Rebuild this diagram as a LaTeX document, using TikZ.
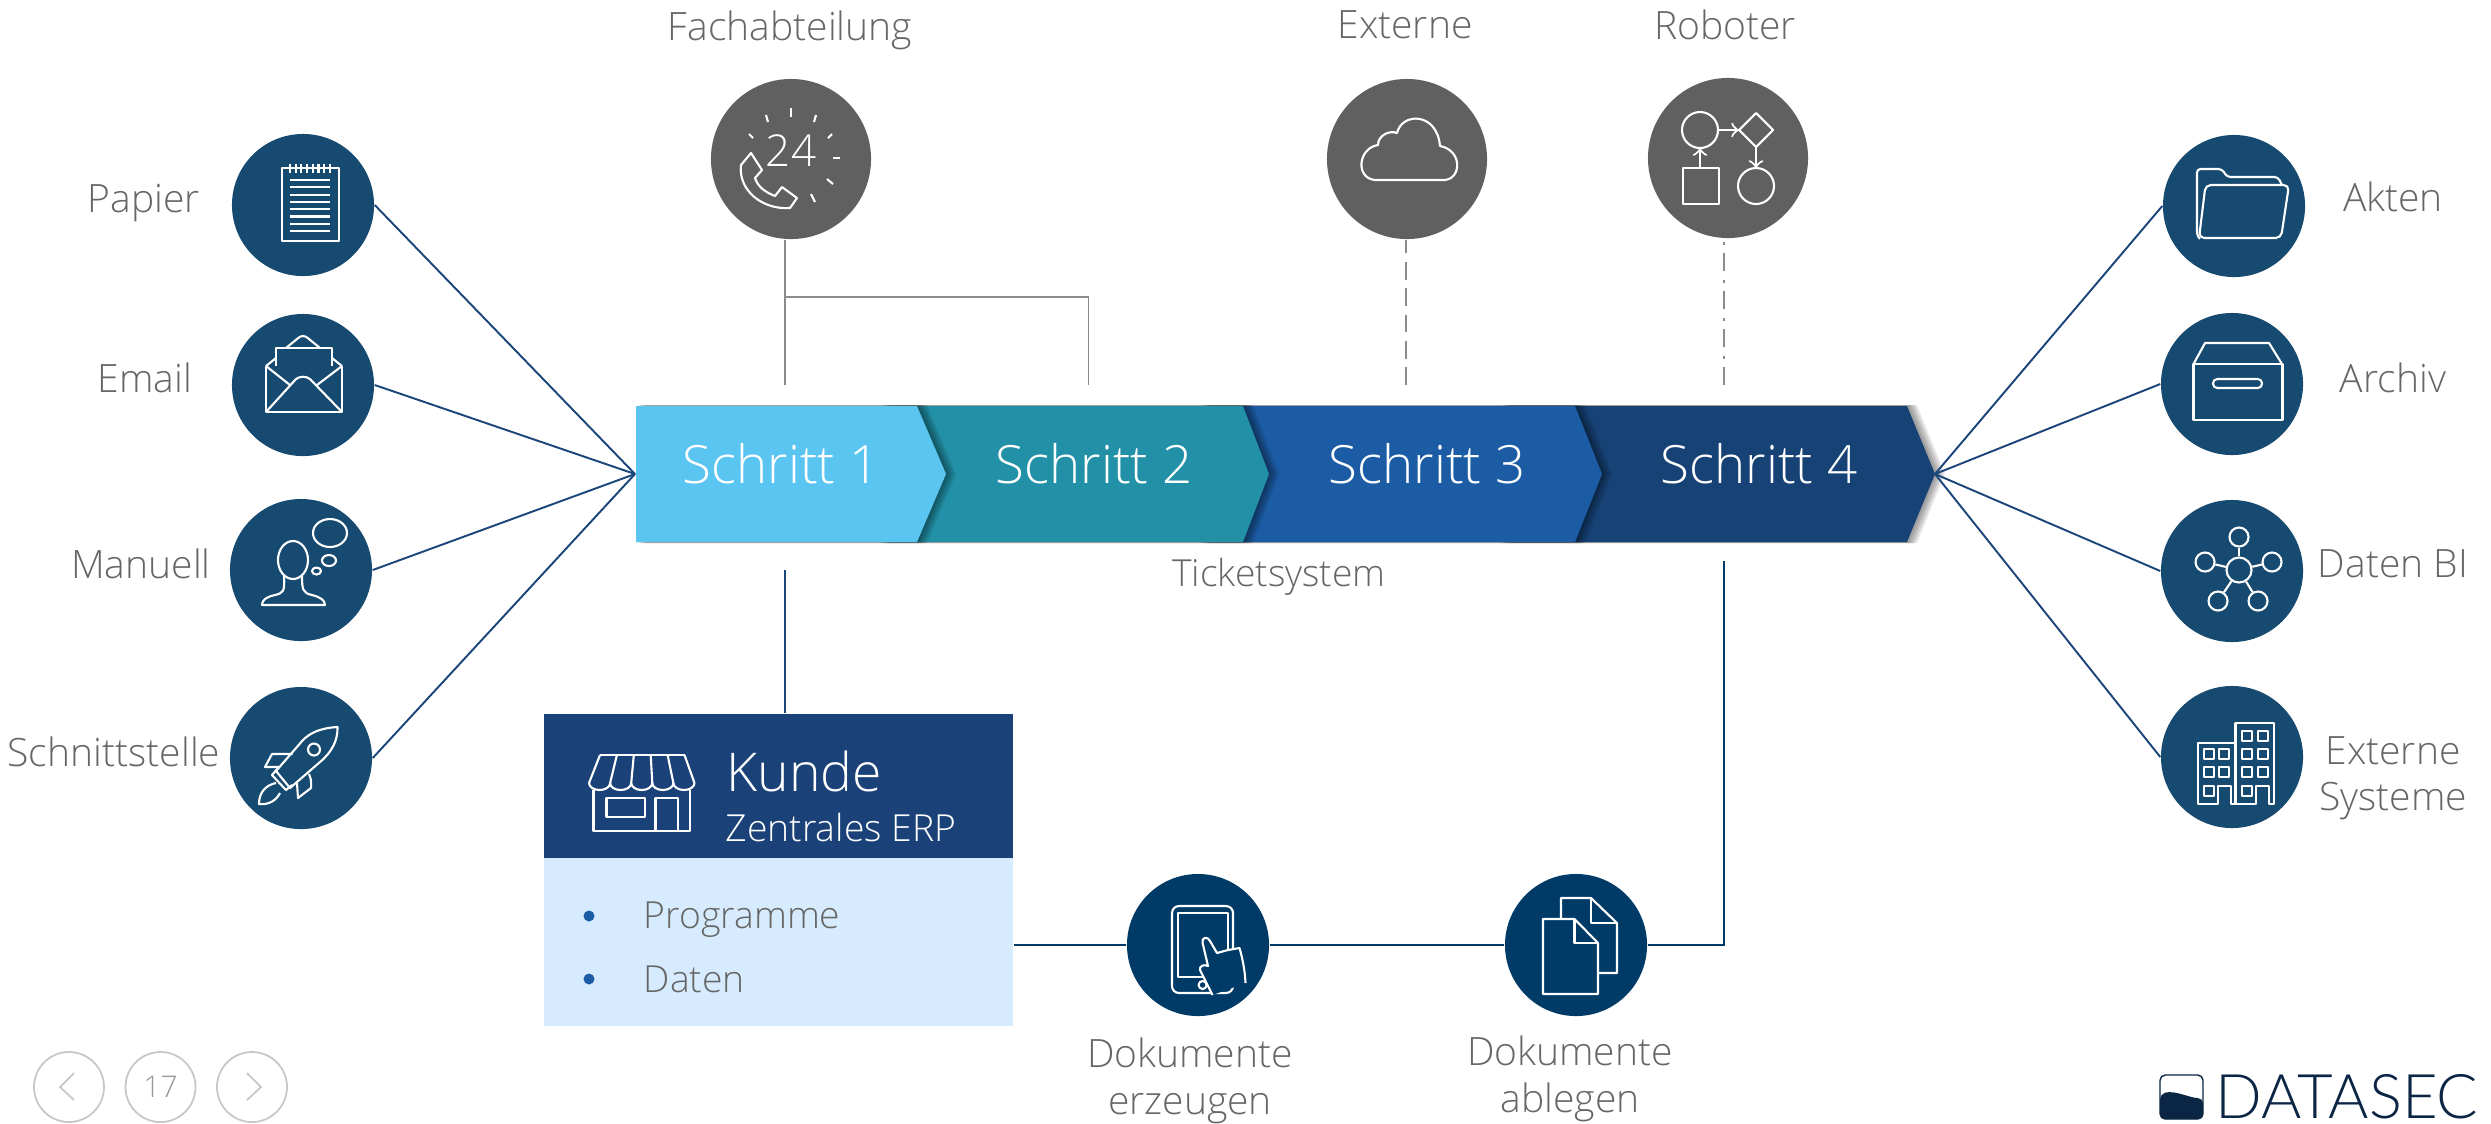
\documentclass[tikz,border=0pt]{standalone}
\usepackage{fontspec}
\setmainfont{Open Sans Light}
\newfontfamily\logofont{Lato Light}
\definecolor{kreisblau}{HTML}{174A70}
\definecolor{dokblau}{HTML}{003A66}
\definecolor{kreisgrau}{HTML}{606060}
\definecolor{liniegrau}{HTML}{8C8C8C}
\definecolor{linieblau}{HTML}{1C4679}
\definecolor{textgrau}{HTML}{666666}
\definecolor{kopfblau}{HTML}{1A4278}
\definecolor{boxblau}{HTML}{D6ECFE}
\definecolor{logoblau}{HTML}{0B2545}
\definecolor{schrittA}{HTML}{5BC5F2}
\definecolor{schrittB}{HTML}{2291A8}
\definecolor{schrittC}{HTML}{1C5CA5}
\definecolor{schrittD}{HTML}{174276}
\tikzset{
    kreis/.style={circle,inner sep=0,minimum size=1.42cm},
    kreisb/.style={kreis,fill=kreisblau},
    kreisd/.style={kreis,fill=dokblau},
    kreisg/.style={circle,inner sep=0,minimum size=1.6cm,fill=kreisgrau},
    rund/.style={circle,inner sep=0,minimum size=0.7cm,draw=black!22,line width=0.5pt,text=black!40,font=\fontsize{8.5}{10}\selectfont},
    beschriftung/.style={inner sep=0,text=textgrau,align=center,font=\fontsize{11.1}{13.2}\selectfont},
    klein/.style={beschriftung,font=\fontsize{10.6}{13}\selectfont},
    schritt/.style={inner sep=0,text=white,font=\fontsize{15}{18}\selectfont},
    blaulinie/.style={draw=linieblau,line width=0.55pt},
    graulinie/.style={draw=liniegrau,line width=0.55pt},
    icon/.style={draw=white,line width=0.6pt,line join=round},
    netz/.style={circle,inner sep=0,draw=white,line width=0.6pt}
}
\begin{document}
\begin{tikzpicture}[x=0.01cm,y=-0.01cm]
    \useasboundingbox (0,0) rectangle (2491,1123);

    % Draw the four steps, last one first
    \foreach \l/\s/\t/\c in {1500/1907/1935/schrittD,1200/1575/1602/schrittC,880/1243/1269/schrittB,636/917/946/schrittA} {
        \foreach \d in {2,4,...,10} {
            \fill[black,opacity=.09,shift={(\d,0)}] (\l,405) -- (\s,405) -- (\t,474) -- (\s,543) -- (\l,543) -- cycle;
        }
        \fill[\c] (\l,406) -- (\s,406) -- (\t,474) -- (\s,542) -- (\l,542) -- cycle;
    }
    \node[schritt] (schritt1) at (781,464) {Schritt 1};
    \node[schritt] (schritt2) at (1094,464) {Schritt 2};
    \node[schritt] (schritt3) at (1427,464) {Schritt 3};
    \node[schritt] (schritt4) at (1759,464) {Schritt 4};
    \node[klein] (ticket) at (1279,577) {Ticketsystem};

    % Circles
    \foreach \name/\x/\y in {papier/303/205,email/303/385,manuell/301/570,schnittstelle/301/758,akten/2234/206,archiv/2232/384,datenbi/2232/571,systeme/2232/757} {
        \node[kreisb] (\name) at (\x,\y) {};
    }
    \node[kreisg] (fach) at (791,159) {};
    \node[kreisg] (extern) at (1407,159) {};
    \node[kreisg] (roboter) at (1728,158) {};
    \node[kreisd] (erzeugen) at (1198,945) {};
    \node[kreisd] (ablegen) at (1576,945) {};

    % Customer box
    \node[fill=kopfblau,inner sep=0,minimum width=4.69cm,minimum height=1.44cm] (kundekopf) at (778.5,786) {};
    \node[fill=boxblau,inner sep=0,minimum width=4.69cm,minimum height=1.68cm] (kundebox) at (778.5,942) {};
    \node[inner sep=0,anchor=west,text=white,font=\fontsize{15.2}{18}\selectfont] (kunde) at (726,771) {Kunde};
    \node[inner sep=0,anchor=west,text=white,font=\fontsize{10.6}{13}\selectfont] (erp) at (725,827) {Zentrales ERP};
    \node[klein,anchor=west] (programme) at (643,920) {Programme};
    \node[klein,anchor=west] (daten) at (643,979) {Daten};
    \node[circle,inner sep=0,minimum size=0.11cm,fill=schrittC] (punkta) at (589,916) {};
    \node[circle,inner sep=0,minimum size=0.11cm,fill=schrittC] (punktb) at (589,979) {};

    % Labels
    \foreach \name/\x/\y/\t in {lpapier/144/203/Papier,lemail/145/378/Email,lmanuell/141/564/Manuell,lschnitt/114/752/Schnittstelle,lakten/2393/197/Akten,larchiv/2393/378/Archiv,ldaten/2393/564/Daten BI,lsysteme/2393/778/{Externe\\Systeme},lfach/790/30/Fachabteilung,lextern/1405/25/Externe,lroboter/1725/25/Roboter,lerzeugen/1190/1081/{Dokumente\\erzeugen},lablegen/1570/1079/{Dokumente\\ablegen}} {
        \node[beschriftung] (\name) at (\x,\y) {\t};
    }

    % Connectors
    \coordinate (eingang) at (635,474);
    \coordinate (ausgang) at (1935,474);
    \foreach \name in {papier,email,manuell,schnittstelle} {
        \draw[blaulinie] (\name.east) -- (eingang);
    }
    \foreach \name in {akten,archiv,datenbi,systeme} {
        \draw[blaulinie] (\name.west) -- (ausgang);
    }
    \coordinate (s1oben) at (785,385);
    \coordinate (s2oben) at (1088.5,385);
    \coordinate (s3oben) at (1406,385);
    \coordinate (s4oben) at (1724,385);
    \coordinate (s1unten) at (785,570);
    \coordinate (s4unten) at (1724,561);
    \coordinate (abzweig) at (785,297);
    \draw[graulinie] (s1oben) -- (s1oben |- fach.south);
    \draw[graulinie] (abzweig) -| (s2oben);
    \draw[graulinie,line width=0.45pt,dash pattern=on 5pt off 2.5pt] (s3oben) -- (s3oben |- extern.south);
    \draw[graulinie,line width=0.45pt,dash pattern=on 5pt off 2.5pt on 0.8pt off 2.5pt] (s4oben) -- (s4oben |- roboter.south);
    \draw[blaulinie] (s1unten) -- (s1unten |- kundekopf.north);
    \draw[draw=dokblau,line width=0.7pt] (kundebox.east |- erzeugen.west) -- (erzeugen.west);
    \draw[draw=dokblau,line width=0.7pt] (erzeugen.east) -- (ablegen.west);
    \draw[draw=dokblau,line width=0.7pt] (ablegen.east) -| (s4unten);

    % Paper
    \draw[icon] (282,168) rectangle (339,241);
    \foreach \y in {180,187.3,...,232} {
        \draw[icon] (290,\y) -- (330,\y);
    }
    \foreach \x in {290,295.7,...,331} {
        \draw[icon] (\x,164) -- (\x,173);
    }

    % Email
    \draw[icon] (276,366) -- (276,348) -- (332,348) -- (332,366);
    \draw[icon] (286,348) -- (297,339) .. controls (301,335) and (305,335) .. (309,339) -- (320,348);
    \draw[icon] (266,366) -- (276,358) (342,366) -- (332,358);
    \draw[icon] (266,366) -- (266,412) -- (342,412) -- (342,366);
    \draw[icon] (266,366) -- (290,385) (342,366) -- (317,385);
    \draw[icon] (266,412) -- (296,379) .. controls (300,376) and (306,376) .. (310,379) -- (342,412);

    % Thinking head
    \draw[icon] (293,560) ellipse [x radius=15,y radius=19];
    \draw[icon] (284,576) .. controls (285,592) and (283,593) .. (275,595) .. controls (266,597) and (262,600) .. (262,605) -- (325,605) .. controls (325,600) and (320,597) .. (312,595) .. controls (303,593) and (302,590) .. (302,576);
    \draw[icon] (330,533) ellipse [x radius=17,y radius=14];
    \draw[icon] (329,560.5) ellipse [x radius=7,y radius=5.5];
    \draw[icon] (316.5,571) ellipse [x radius=4.5,y radius=3.5];

    % Rocket
    \draw[icon] (337.5,727) .. controls (320,728) and (310,733) .. (303,740) -- (276,771) -- (290,788) -- (320,762) .. controls (332,752) and (338,740) .. (337.5,727) -- cycle;
    \draw[icon] (314,749.5) circle (6);
    \draw[icon] (278,768) -- (272,775) -- (286,790) -- (292,785);
    \draw[icon] (292.5,754) -- (272,754) -- (265,767) -- (279,767);
    \draw[icon] (309,774) .. controls (312,780) and (311,785) .. (311,788) -- (298,798) -- (297,783);
    \draw[icon] (276,783) .. controls (266,785) and (259,792) .. (259,804) .. controls (268,805) and (276,801) .. (280,793);

    % Phone with ticks
    \node[inner sep=0,text=white,font=\fontsize{12.5}{14}\selectfont] (vierundzwanzig) at (791,151) {24};
    \foreach \a/\b/\c/\d in {791/108/791/117,766/115/768/122,816/115/814/122,749/134/753/138,832/134/828/138,833/158/840/158,827/179/833/184,811/194/815/202} {
        \draw[icon] (\a,\b) -- (\c,\d);
    }
    \draw[icon] (741,165) -- (751,153) -- (762,170) -- (755,178) .. controls (758,187) and (765,192) .. (775,196) -- (782,187) -- (797,198) -- (790,208) .. controls (762,210) and (738,190) .. (741,165) -- cycle;

    % Cloud
    \draw[icon] (1375,180) .. controls (1355,178) and (1358,148) .. (1378,145) .. controls (1378,135) and (1390,130) .. (1397,133) .. controls (1402,112) and (1437,112) .. (1440,146) .. controls (1462,150) and (1462,178) .. (1445,180) -- cycle;

    % Process chart
    \draw[icon] (1700,130) circle (18);
    \draw[icon] (1756,113) -- (1773,130) -- (1756,147) -- (1739,130) -- cycle;
    \draw[icon] (1683,168) rectangle (1719,204);
    \draw[icon] (1756,186) circle (18);
    \draw[icon,->] (1718,130) -- (1739,130);
    \draw[icon,->] (1700,168) -- (1700,148);
    \draw[icon,->] (1756,147) -- (1756,168);

    % Folder
    \draw[icon,rounded corners=1pt] (2199,238) -- (2197,236) -- (2197,169) -- (2222,169) -- (2227,177) -- (2278,177) -- (2282,185);
    \draw[icon,rounded corners=1.5pt] (2205.5,185) -- (2289,185) -- (2281,238) -- (2199,238) -- cycle;

    % Box
    \draw[icon] (2193.5,364) -- (2205,343) -- (2269,343) -- (2282,364);
    \draw[icon] (2193.5,364) rectangle (2282.5,420);
    \draw[icon,rounded corners=1.2pt] (2213,379) rectangle (2262,388);

    % Network
    \node[netz,minimum size=0.25cm] (nmitte) at (2239,570) {};
    \foreach \name/\x/\y in {na/2239/537,nb/2205/562,nc/2272/562,nd/2218/601,ne/2258/601} {
        \node[netz,minimum size=0.19cm] (\name) at (\x,\y) {};
        \draw[icon] (nmitte) -- (\name);
    }

    % Buildings
    \draw[icon] (2235.5,743) -- (2198,743) -- (2198,804) -- (2218,804) -- (2218,786) -- (2231,786) -- (2231,804) -- (2235.5,804);
    \draw[icon] (2235.5,804) -- (2235.5,723) -- (2274,723) -- (2274,804) -- (2269,804) -- (2269,786) -- (2256,786) -- (2256,804) -- cycle;
    \foreach \x/\y in {2209/754,2224/754,2209/772,2224/772,2209/791,2247/736,2263/736,2247/754,2263/754,2247/772,2263/772,2247/791} {
        \draw[icon] (\x-5,\y-5) rectangle (\x+5,\y+5);
    }

    % Shop
    \draw[icon] (600,755) -- (684.5,755);
    \foreach \i in {0,...,5} {
        \draw[icon] ({600+16.9*\i},755) -- ({589+21.1*\i},783);
    }
    \foreach \i in {0,...,4} {
        \draw[icon] ({589+21.1*\i},783) arc (180:0:10.55 and 7);
    }
    \draw[icon] (593.5,790) -- (593.5,831) -- (690,831) -- (690,790);
    \draw[icon] (606.5,798) rectangle (645,817);
    \draw[icon] (655.5,831) -- (655.5,798) -- (678,798) -- (678,831);

    % Tablet
    \draw[icon,rounded corners=2pt] (1172,906) rectangle (1233,993);
    \draw[icon] (1178,913) rectangle (1228,977);
    \draw[icon] (1202.6,985) circle (4);
    \draw[icon,fill=dokblau] (1212.5,995) -- (1200,970) .. controls (1199,966) and (1204,964) .. (1208,966) -- (1202.6,943) .. controls (1201,937) and (1208,936) .. (1210,941) -- (1217,953) -- (1228,950) -- (1239.5,948) .. controls (1243,960) and (1245,972) .. (1245.5,983);

    % Documents
    \draw[icon] (1561,919) -- (1561,898) -- (1591,898) -- (1617,923) -- (1617,973) -- (1598,973);
    \draw[icon] (1591,898) -- (1591,923) -- (1617,923);
    \draw[icon,fill=dokblau] (1543,919) -- (1574.5,919) -- (1598,943) -- (1598,994) -- (1543,994) -- cycle;
    \draw[icon] (1574.5,919) -- (1574.5,943) -- (1598,943);

    % Page buttons
    \node[rund] (zurueck) at (69,1087) {};
    \node[rund] (seite) at (160.5,1087) {17};
    \node[rund] (weiter) at (252,1087) {};
    \draw[black!22,line width=0.5pt] (74,1073) -- (60,1087) -- (74,1100);
    \draw[black!22,line width=0.5pt] (247,1073) -- (261,1087) -- (247,1100);

    % Logo
    \draw[logoblau,line width=0.4pt,rounded corners=1.5pt] (2160,1075) rectangle (2203,1119);
    \fill[logoblau,rounded corners=1.5pt] (2160,1094) .. controls (2175,1090) and (2190,1098) .. (2203,1098) -- (2203,1119) -- (2160,1119) -- cycle;
    \node[inner sep=0,text=logoblau,font=\logofont\fontsize{17.5}{20}\selectfont] (logo) at (2347,1097) {DATASEC};
\end{tikzpicture}
\end{document}
